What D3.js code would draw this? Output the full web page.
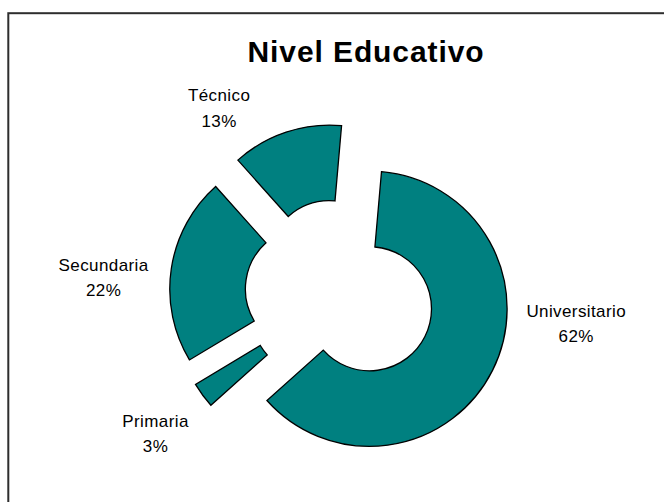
<html>
<head>
<meta charset="utf-8">
<script src="https://d3js.org/d3.v7.min.js"></script>
<style>
  body { margin: 0; background: #fff; }
  text { font-family: "Liberation Sans", Arial, sans-serif; fill: #000; }
</style>
</head>
<body>
<svg width="664" height="502"></svg>
<script>
// data
var categories = ["Universitario", "Primaria", "Secundaria", "Técnico"];
var values = [62, 3, 22, 13];
var pctLabels = ["62%", "3%", "22%", "13%"];
// label anchors (angle in degrees clockwise from 12 o'clock, distance from centre)
var labelAngle = [97, 233, 274, 327];
var labelDist = [238, 231, 237, 222];

var svg = d3.select("svg");
var cx = 340, cy = 294, outerR = 137.6, innerR = 62, explode = 33;

// frame (chart area border runs off the right and bottom)
svg.append("rect")
  .attr("x", 8.3).attr("y", 13.2)
  .attr("width", 800).attr("height", 600)
  .style("fill", "none").style("stroke", "#2e2e2e").style("stroke-width", 2);

svg.append("text")
  .attr("x", 366).attr("y", 61.5)
  .attr("text-anchor", "middle")
  .style("font-size", "30px").style("font-weight", "bold")
  .style("letter-spacing", "0.9px")
  .text("Nivel Educativo");

var pie = d3.pie().sort(null)
  .startAngle(5 * Math.PI / 180)
  .endAngle(5 * Math.PI / 180 + 2 * Math.PI);
var arc = d3.arc().innerRadius(innerR).outerRadius(outerR);
var arcs = pie(values);

var g = svg.append("g").attr("transform", "translate(" + cx + "," + cy + ")");

g.selectAll("path")
  .data(arcs)
  .enter()
  .append("path")
  .attr("d", arc)
  .attr("transform", function(d) {
    var mid = (d.startAngle + d.endAngle) / 2;
    var p = d3.pointRadial(mid, explode);
    return "translate(" + p[0] + "," + p[1] + ")";
  })
  .style("fill", "#008080")
  .style("stroke", "#000")
  .style("stroke-width", 1.3)
  .style("stroke-linejoin", "miter");

var lab = g.selectAll("text.lab")
  .data(categories)
  .enter()
  .append("text")
  .attr("class", "lab")
  .attr("text-anchor", "middle")
  .style("font-size", "17px")
  .style("letter-spacing", "0.4px")
  .attr("transform", function(d, i) {
    var p = d3.pointRadial(labelAngle[i] * Math.PI / 180, labelDist[i]);
    return "translate(" + p[0] + "," + p[1] + ")";
  });

lab.append("tspan").attr("x", 0).attr("y", -6.5).text(function(d) { return d; });
lab.append("tspan").attr("x", 0).attr("y", 19).text(function(d, i) { return pctLabels[i]; });
</script>
</body>
</html>
